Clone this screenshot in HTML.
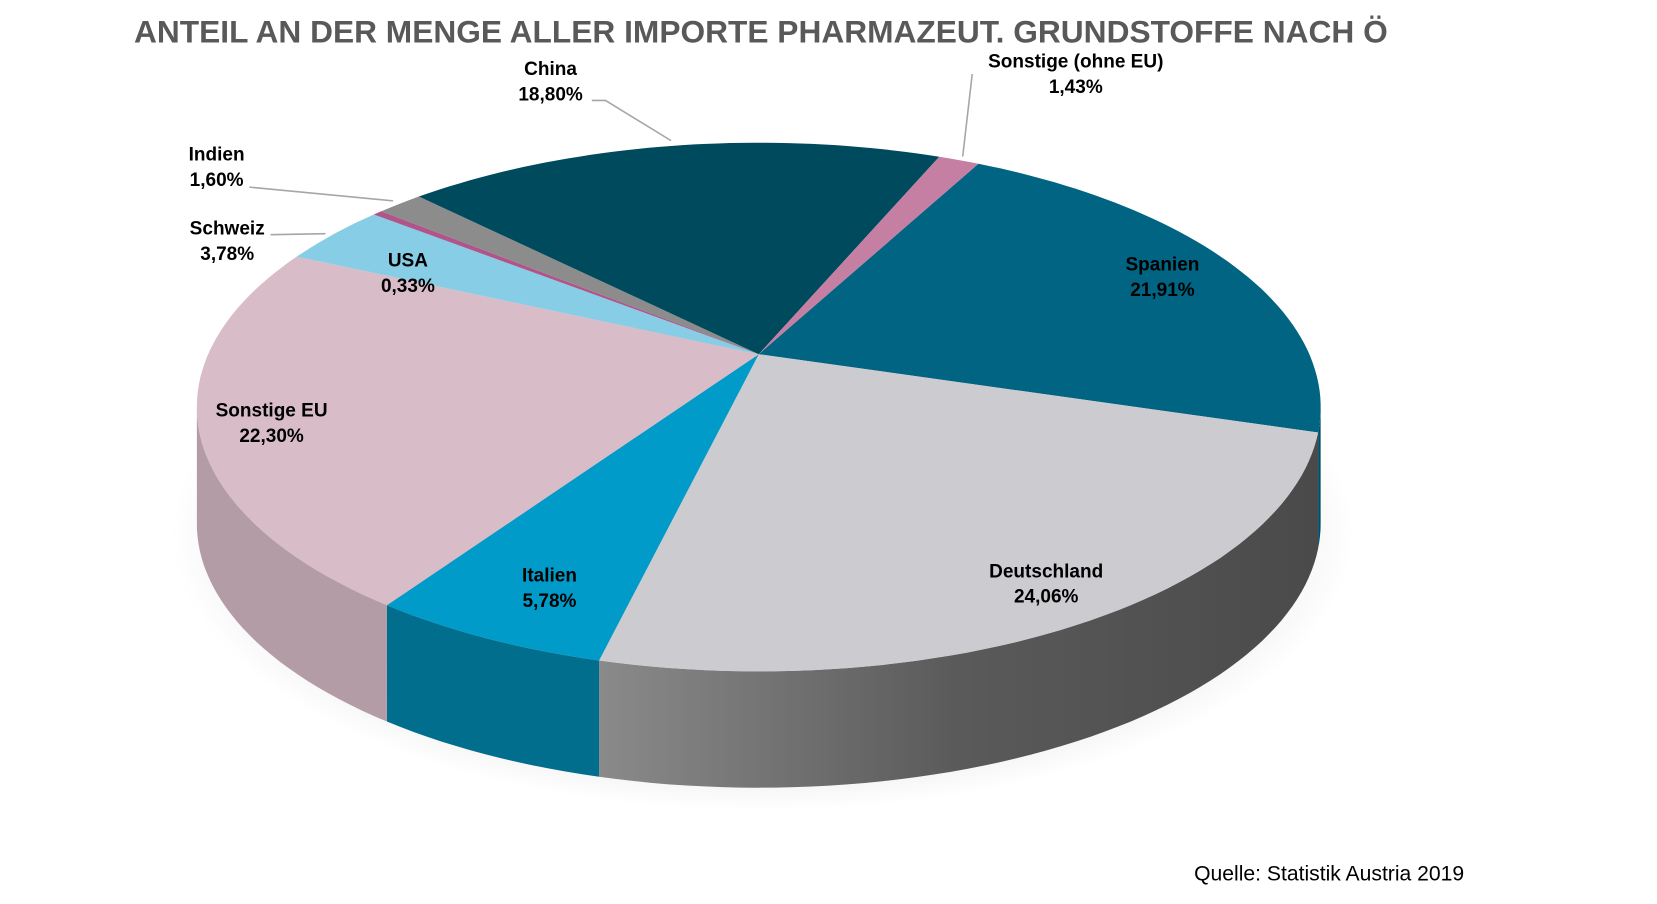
<!DOCTYPE html>
<html><head><meta charset="utf-8">
<style>
html,body{margin:0;padding:0;background:#fff;}
svg{display:block;font-family:"Liberation Sans",sans-serif;}
</style></head>
<body>
<svg id="chart" width="1657" height="904" viewBox="0 0 1568 855" preserveAspectRatio="none" xmlns="http://www.w3.org/2000/svg">
<defs>
<linearGradient id="gside" x1="0" x2="1" y1="0" y2="0">
<stop offset="0" stop-color="#8a8a8a"/><stop offset="0.5" stop-color="#5a5a5a"/><stop offset="1" stop-color="#4a4a4a"/></linearGradient>
<radialGradient id="shadow" cx="0.5" cy="0.5" r="0.5"><stop offset="0.7" stop-color="#000" stop-opacity="0.12"/><stop offset="1" stop-color="#000" stop-opacity="0"/></radialGradient>
</defs>
<text x="720" y="40" text-anchor="middle" font-size="30" font-weight="bold" fill="#595959">ANTEIL AN DER MENGE ALLER IMPORTE PHARMAZEUT. GRUNDSTOFFE NACH Ö</text>
<ellipse cx="722" cy="505" rx="560" ry="262" fill="url(#shadow)"/>
<g id="sides"></g>
<g id="slices"></g>
<g id="leaders" stroke="#a6a6a6" stroke-width="1.5" fill="none">
<polyline points="560,95 573,95 635,133"/>
<polyline points="920,70 911,148"/>
<polyline points="236,177 372,190"/>
<polyline points="256,222 308,221"/>
</g>
<g id="labels" font-size="18" font-weight="bold" fill="#000" text-anchor="middle">
<text x="521" y="71">China<tspan x="521" dy="24">18,80%</tspan></text>
<text x="1018" y="64">Sonstige (ohne EU)<tspan x="1018" dy="24">1,43%</tspan></text>
<text x="205" y="152">Indien<tspan x="205" dy="24">1,60%</tspan></text>
<text x="215" y="222">Schweiz<tspan x="215" dy="24">3,78%</tspan></text>
<text x="386" y="252">USA<tspan x="386" dy="24">0,33%</tspan></text>
<text x="1100" y="256">Spanien<tspan x="1100" dy="24">21,91%</tspan></text>
<text x="257" y="394">Sonstige EU<tspan x="257" dy="24">22,30%</tspan></text>
<text x="520" y="550">Italien<tspan x="520" dy="24">5,78%</tspan></text>
<text x="990" y="546">Deutschland<tspan x="990" dy="24">24,06%</tspan></text>
</g>
<text x="1130" y="833" font-size="20" fill="#000">Quelle: Statistik Austria 2019</text>
</svg>
<script>
const categories = ["Spanien","Deutschland","Italien","Sonstige EU","Schweiz","USA","Indien","China","Sonstige (ohne EU)"];
const values = [21.91,24.06,5.78,22.30,3.78,0.33,1.60,18.80,1.43];
const topColors = ["#006482","#cccbcf","#009bc9","#d8bcc8","#87cde6","#b0558a","#8c8c8c","#004a5e","#c47fa3"];
const sideColors = ["#004f66","url(#gside)","#006e8c","#b39ca6","#6aa9bf","#8a4470","#6e6e6e","#003a4a","#9c6482"];

const NS="http://www.w3.org/2000/svg";
const ax=718, ay=335, A=521, B=240, K=0.2, depth=110;
const startDeg=-62;
const sideStart=Math.asin(K)*180/Math.PI, sideEnd=180-sideStart;
const total=values.reduce((a,b)=>a+b,0);
function rim(deg,dy){const r=deg*Math.PI/180;const w=1-K*Math.sin(r);return [ax+A*Math.cos(r)/w, ay+B*Math.sin(r)/w+(dy||0)];}
function arcPts(a1,a2,dy){const pts=[];const n=Math.max(2,Math.ceil(Math.abs(a2-a1)/1.5));for(let i=0;i<=n;i++){pts.push(rim(a1+(a2-a1)*i/n,dy));}return pts;}
const sides=document.getElementById('sides'), slices=document.getElementById('slices');
let a=startDeg;
values.forEach((v,i)=>{
  const a1=a, a2=a+v/total*360; a=a2;
  for(const off of [0,360,-360]){
    const s=Math.max(a1,sideStart+off), e=Math.min(a2,sideEnd+off);
    if(e>s){
      const top=arcPts(s,e,0), bot=arcPts(e,s,depth);
      const p=document.createElementNS(NS,'path');
      p.setAttribute('d','M'+top.concat(bot).map(q=>q[0].toFixed(1)+','+q[1].toFixed(1)).join('L')+'Z');
      p.setAttribute('fill',sideColors[i]);
      
      
      sides.appendChild(p);
    }
  }
  const pts=arcPts(a1,a2,0);
  const path=document.createElementNS(NS,'path');
  path.setAttribute('d','M'+ax+','+ay+'L'+pts.map(q=>q[0].toFixed(1)+','+q[1].toFixed(1)).join('L')+'Z');
  path.setAttribute('fill',topColors[i]);
  
  
  slices.appendChild(path);
});
</script>
</body></html>
